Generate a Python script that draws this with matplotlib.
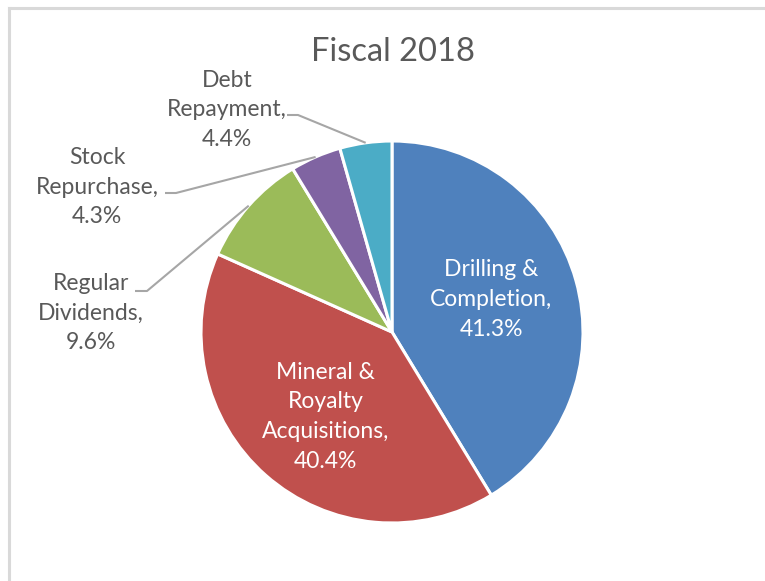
import numpy as np
import matplotlib.pyplot as plt
from matplotlib.lines import Line2D

plt.rcParams['font.family'] = ['Lato', 'DejaVu Sans']

# spending split for the year
categories = ['Drilling &\nCompletion', 'Mineral &\nRoyalty\nAcquisitions',
              'Regular\nDividends', 'Stock\nRepurchase', 'Debt\nRepayment']
shares = [41.3, 40.4, 9.6, 4.3, 4.4]
colors = ['#4F81BD', '#C0504D', '#9BBB59', '#8064A2', '#4BACC6']

W, H = 765, 581
fig = plt.figure(figsize=(W / 100, H / 100), dpi=100)
ax = fig.add_axes([0, 0, 1, 1])

# pie laid out in pixel units (y up)
cx, cy, R = 392, H - 332, 191
wedges, _ = ax.pie(shares, colors=colors, startangle=90, counterclock=False,
                   center=(cx, cy), radius=R,
                   wedgeprops=dict(edgecolor='white', linewidth=2.2))
ax.set_xlim(0, W)
ax.set_ylim(0, H)
ax.set_aspect('auto')
ax.axis('off')

# frame lines on top and left
fig.add_artist(Line2D([9 / W, 1], [1 - 8 / H, 1 - 8 / H], color='#D9D9D9', lw=2.2, transform=fig.transFigure))
fig.add_artist(Line2D([9 / W, 9 / W], [0, 1 - 8 / H], color='#D9D9D9', lw=2.2, transform=fig.transFigure))

ax.text(cx + 1, H - 52, 'Fiscal 2018', ha='center', va='center', fontsize=23.5, color='#595959')

labels = ['{},\n{:.1f}%'.format(c, s) for c, s in zip(categories, shares)]
fs = 16.5
ls = 1.52

# labels inside the two big slices (small nudges in px)
nudge = {0: (-2, 4), 1: (3, -6)}
for i in [0, 1]:
    w = wedges[i]
    mid = np.deg2rad((w.theta1 + w.theta2) / 2)
    r = 0.55 * R
    dx, dy = nudge[i]
    ax.text(cx + r * np.cos(mid) + dx, cy + r * np.sin(mid) + dy, labels[i], ha='center', va='center',
            fontsize=fs, color='white', linespacing=ls)

# small slices get outside labels with leader lines
label_pos = {2: (91, 313), 3: (97, 187), 4: (227, 110)}
elbow = {2: (135, 147, 291), 3: (165, 176, 193), 4: (287, 298, 115)}
for i in [2, 3, 4]:
    w = wedges[i]
    mid = np.deg2rad((w.theta1 + w.theta2) / 2)
    px, py = cx + R * np.cos(mid), cy + R * np.sin(mid)
    x0, x1, ey = elbow[i]
    ax.plot([x0, x1, px], [H - ey, H - ey, py], color='#A6A6A6', lw=1.5, solid_capstyle='butt')
    lx, ly = label_pos[i]
    ax.text(lx, H - ly, labels[i], ha='center', va='center',
            fontsize=fs, color='#595959', linespacing=ls)

plt.savefig('out.png', dpi=100)
